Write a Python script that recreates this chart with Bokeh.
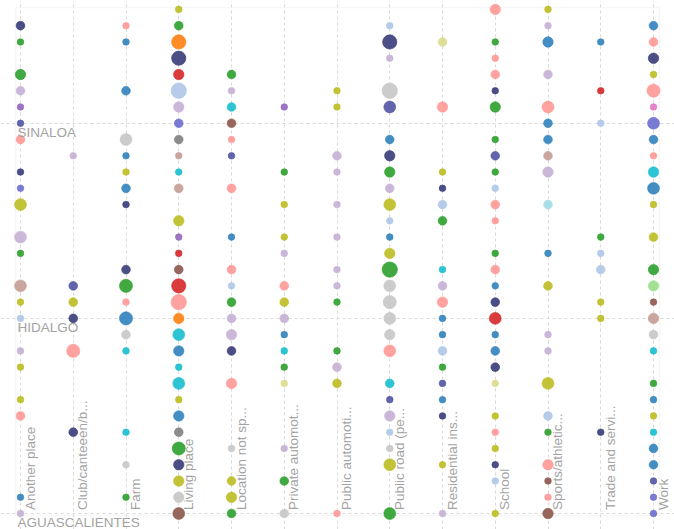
import numpy as np
from bokeh.plotting import figure
from bokeh.models import ColumnDataSource, LabelSet, Grid, FixedTicker, BoxAnnotation, Range1d
from bokeh.core.properties import value
from bokeh.embed import file_html
from bokeh.resources import INLINE

# ---------------- data ----------------
states = ["AGUASCALIENTES", "BAJA CALIFORNIA", "BAJA CALIFORNIA SUR", "CAMPECHE", "CHIAPAS",
          "CHIHUAHUA", "CIUDAD DE MÉXICO", "COAHUILA", "COLIMA", "DURANGO", "GUANAJUATO",
          "GUERRERO", "HIDALGO", "JALISCO", "MÉXICO", "MICHOACÁN", "MORELOS", "NAYARIT",
          "NUEVO LEÓN", "OAXACA", "PUEBLA", "QUERÉTARO", "QUINTANA ROO", "SAN LUIS POTOSÍ",
          "SINALOA", "SONORA", "TABASCO", "TAMAULIPAS", "TLAXCALA", "VERACRUZ", "YUCATÁN",
          "ZACATECAS"]
labelled_states = ["AGUASCALIENTES", "HIDALGO", "SINALOA"]

places = ["Another place", "Club/canteeen/b...", "Farm", "Living place", "Location not sp...",
          "Private automot...", "Public automoti...", "Public road (pe...", "Residential ins...",
          "School", "Sports/athletic...", "Trade and servi...", "Work"]

# (state index, count, group)
another_place = [(30, 2, "N"), (29, 1, "G"), (27, 3, "G"), (26, 2, "LV"), (25, 1, "PU"), (24, 1, "S"),
                 (23, 2, "PK"), (21, 1, "N"), (20, 1, "P"), (19, 4, "OL"), (17, 4, "LV"), (16, 1, "G"),
                 (14, 4, "T"), (13, 1, "OL"), (12, 1, "LB"), (10, 1, "LV"), (9, 1, "OL"), (7, 1, "OL"),
                 (6, 2, "PK"), (1, 1, "B"), (0, 1, "LV")]
club = [(22, 1, "LV"), (14, 2, "S"), (13, 2, "OL"), (12, 2, "N"), (10, 5, "PK"), (5, 2, "N")]
farm = [(30, 1, "PK"), (29, 1, "B"), (26, 2, "B"), (23, 4, "LGR"), (22, 1, "B"), (21, 1, "OL"),
        (20, 2, "B"), (19, 1, "N"), (15, 2, "N"), (14, 5, "G"), (13, 1, "PK"), (12, 5, "B"),
        (11, 2, "LGR"), (10, 1, "C"), (5, 1, "C"), (3, 1, "LGR"), (1, 1, "G")]
living_place = [(31, 1, "OL"), (30, 2, "G"), (29, 6, "O"), (28, 6, "N"), (27, 3, "R"), (26, 7, "LB"),
                (25, 3, "LV"), (24, 2, "P"), (23, 2, "GR"), (22, 1, "T"), (21, 1, "C"), (20, 2, "T"),
                (18, 3, "OL"), (17, 1, "PU"), (16, 1, "R"), (15, 2, "BR"), (14, 6, "R"), (13, 7, "PK"),
                (12, 3, "O"), (11, 4, "C"), (10, 3, "B"), (9, 1, "C"), (8, 4, "C"), (7, 1, "OL"),
                (6, 3, "B"), (5, 2, "GR"), (4, 5, "G"), (3, 3, "N"), (2, 3, "OL"), (1, 3, "LGR"),
                (0, 4, "BR")]
location_not_sp = [(27, 2, "G"), (26, 1, "LV"), (25, 2, "C"), (24, 2, "BR"), (23, 1, "PK"), (22, 1, "S"),
                   (20, 2, "PK"), (17, 1, "B"), (15, 2, "PK"), (14, 1, "LB"), (13, 2, "G"), (12, 2, "LV"),
                   (11, 3, "LV"), (10, 2, "N"), (8, 3, "PK"), (4, 1, "LGR"), (2, 2, "OL"), (1, 3, "OL"),
                   (0, 2, "G")]
private_auto = [(25, 1, "PU"), (21, 1, "G"), (19, 1, "OL"), (17, 1, "OL"), (16, 1, "LV"), (14, 2, "PK"),
                (13, 2, "OL"), (12, 2, "LV"), (11, 1, "B"), (10, 1, "C"), (9, 1, "G"), (8, 1, "PO"),
                (4, 1, "LV"), (2, 2, "G"), (0, 2, "LGR")]
public_auto = [(26, 1, "OL"), (25, 1, "OL"), (22, 2, "LV"), (21, 1, "LV"), (19, 1, "LV"), (17, 1, "LV"),
               (15, 1, "LV"), (14, 1, "LV"), (13, 1, "G"), (10, 1, "G"), (9, 2, "LV"), (8, 2, "OL"),
               (0, 1, "PK")]
public_road = [(30, 1, "LB"), (29, 6, "N"), (28, 1, "LV"), (26, 7, "LGR"), (25, 4, "S"), (23, 2, "B"),
               (22, 3, "N"), (21, 3, "G"), (20, 2, "LV"), (19, 4, "OL"), (18, 1, "LB"), (17, 1, "B"),
               (16, 3, "OL"), (15, 7, "G"), (14, 4, "LGR"), (13, 5, "LGR"), (12, 4, "LGR"), (11, 3, "LGR"),
               (10, 4, "PK"), (8, 2, "C"), (7, 1, "S"), (6, 3, "LV"), (5, 1, "LB"), (4, 1, "LGR"),
               (3, 4, "OL"), (0, 4, "G")]
residential = [(29, 2, "PO"), (25, 3, "PK"), (21, 1, "OL"), (20, 1, "N"), (19, 2, "LB"), (18, 2, "G"),
               (15, 1, "C"), (14, 2, "LV"), (13, 3, "PK"), (12, 1, "B"), (11, 1, "B"), (10, 2, "LB"),
               (9, 1, "G"), (8, 1, "S"), (7, 1, "B"), (6, 1, "N"), (3, 1, "OL"), (0, 1, "LV")]
school = [(31, 3, "PK"), (29, 1, "G"), (28, 1, "PK"), (27, 2, "PK"), (26, 1, "N"), (25, 3, "G"),
          (23, 1, "G"), (22, 2, "S"), (21, 1, "G"), (20, 1, "LB"), (19, 2, "PK"), (18, 1, "PK"),
          (16, 1, "G"), (15, 2, "PK"), (14, 1, "B"), (13, 2, "N"), (12, 4, "R"), (11, 1, "B"),
          (10, 2, "B"), (9, 2, "N"), (8, 1, "PO"), (6, 1, "OL"), (5, 1, "PK"), (4, 1, "OL"),
          (3, 1, "N"), (2, 1, "LB"), (0, 1, "OL")]
sports = [(31, 1, "OL"), (30, 1, "LV"), (29, 3, "B"), (27, 2, "LV"), (25, 4, "PK"), (24, 2, "B"),
          (23, 2, "B"), (22, 2, "T"), (21, 3, "LV"), (19, 2, "LC"), (16, 1, "B"), (14, 2, "OL"),
          (11, 1, "LV"), (10, 1, "LV"), (8, 4, "OL"), (6, 2, "LB"), (5, 1, "G"), (3, 3, "PK"),
          (2, 1, "BR"), (1, 1, "PK"), (0, 3, "BR")]
trade = [(29, 1, "B"), (26, 1, "R"), (24, 1, "LB"), (17, 1, "G"), (16, 1, "LB"), (15, 2, "LB"),
         (13, 1, "OL"), (12, 1, "OL"), (5, 1, "N")]
work = [(30, 2, "B"), (29, 2, "PK"), (28, 3, "N"), (27, 1, "OL"), (26, 5, "PK"), (25, 1, "M"),
        (24, 4, "P"), (23, 2, "B"), (22, 1, "PK"), (21, 3, "C"), (20, 4, "B"), (19, 1, "OL"),
        (17, 2, "OL"), (15, 3, "G"), (14, 3, "LG"), (13, 1, "BR"), (12, 3, "T"), (11, 2, "LGR"),
        (10, 1, "C"), (8, 1, "G"), (7, 1, "B"), (6, 1, "OL"), (5, 1, "C"), (4, 2, "B"), (3, 2, "B"),
        (2, 1, "S"), (1, 1, "P"), (0, 1, "P")]

place_series = [another_place, club, farm, living_place, location_not_sp, private_auto, public_auto,
                public_road, residential, school, sports, trade, work]

group_colors = {"N": "#393b79", "S": "#5254a3", "P": "#6b6ecf", "B": "#3182bd", "LB": "#aec7e8",
                "O": "#ff7f0e", "G": "#2ca02c", "LG": "#98df8a", "R": "#d62728", "PK": "#ff9896",
                "PU": "#9467bd", "LV": "#c5b0d5", "BR": "#8c564b", "T": "#c49c94", "M": "#e377c2",
                "GR": "#7f7f7f", "LGR": "#c7c7c7", "OL": "#bcbd22", "PO": "#dbdb8d", "C": "#17becf",
                "LC": "#9edae5"}

# ---------------- build source ----------------
xs, ys, cnt, cols = [], [], [], []
for pi, series in enumerate(place_series):
    for si, c, g in series:
        xs.append(pi)
        ys.append(si)
        cnt.append(c)
        cols.append(group_colors[g])
cnt = np.array(cnt, dtype=float)
sizes = 2.0 * np.sqrt(3.0 + 8.0 * cnt)
src = ColumnDataSource(dict(x=xs, y=ys, count=cnt, size=sizes, color=cols))

# ---------------- geometry (canvas pixels) ----------------
W, H = 674, 529
col_px = 52.75      # pixel spacing between columns
row_px = 16.26      # pixel spacing between rows
x0_px = 20          # canvas x of first column
y0_px = 513         # canvas y of first row (from top)
x_start = -x0_px / col_px
x_end = x_start + W / col_px
y_start = -(H - y0_px) / row_px
y_end = y_start + H / row_px

box_left = x_start + 15 / col_px
box_right = x_start + 659 / col_px
box_top = y_end - 7 / row_px
box_bottom = y_end - 515 / row_px

p = figure(width=W, height=H, output_backend="svg", toolbar_location=None,
           x_range=Range1d(x_start, x_end), y_range=Range1d(y_start, y_end),
           x_axis_location=None, y_axis_location=None,
           min_border=0, min_border_left=0, min_border_right=0, min_border_top=0, min_border_bottom=0)
p.outline_line_color = None
p.background_fill_color = "white"
p.border_fill_color = "white"

for g in list(p.center):
    p.center.remove(g)

vgrid = Grid(dimension=0, ticker=FixedTicker(ticks=list(range(len(places)))),
             bounds=(box_bottom, box_top), grid_line_color="#d9d9d9", grid_line_dash="3 3",
             grid_line_width=1)
hgrid = Grid(dimension=1, ticker=FixedTicker(ticks=[states.index(s) for s in labelled_states]),
             bounds=(box_left, box_right), grid_line_color="#d9d9d9", grid_line_dash="3 3",
             grid_line_width=1)
p.add_layout(vgrid, "center")
p.add_layout(hgrid, "center")

frame_box = BoxAnnotation(left=box_left, right=box_right, bottom=box_bottom, top=box_top,
                          fill_alpha=0, line_color="#e2e2e2", line_width=1.5, level="underlay")
p.add_layout(frame_box)

p.scatter("x", "y", source=src, size="size", fill_color="color", line_color="color",
          fill_alpha=0.9, line_alpha=0.6, line_width=1)

FONT = value("Liberation Sans")

# state labels
st_src = ColumnDataSource(dict(x=[box_left] * len(labelled_states),
                               y=[states.index(s) for s in labelled_states],
                               text=labelled_states))
p.add_layout(LabelSet(x="x", y="y", text="text", source=st_src, x_offset=2, y_offset=-1.5,
                      text_baseline="top", text_align="left", text_font=FONT,
                      text_font_size="13.5px", text_color="#a3a3a3"))

# place labels (rotated)
pl_src = ColumnDataSource(dict(x=list(range(len(places))), y=[0] * len(places), text=places))
p.add_layout(LabelSet(x="x", y="y", text="text", source=pl_src, x_offset=14, y_offset=3.5,
                      angle=np.pi / 2, text_baseline="alphabetic", text_align="left",
                      text_font=FONT, text_font_size="13.5px", text_color="#a3a3a3"))

open("out.html", "w").write(file_html(p, INLINE))
